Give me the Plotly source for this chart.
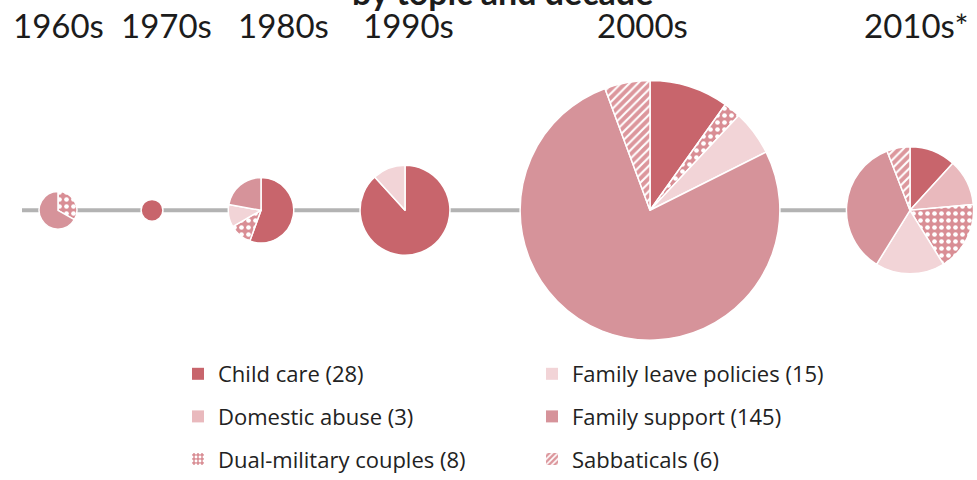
import math
import plotly.graph_objects as go

# ---------------- data ----------------
decades = ["1960s", "1970s", "1980s", "1990s", "2000s", "2010s*"]
topics = ["Child care", "Domestic abuse", "Dual-military couples",
          "Family leave policies", "Family support", "Sabbaticals"]
topic_totals = [28, 3, 8, 15, 145, 6]

child_care     = [0, 1, 5, 15, 14, 4]
domestic_abuse = [0, 0, 0, 0, 0, 4]
dual_military  = [1, 0, 1, 0, 3, 6]
family_leave   = [0, 0, 1, 2, 8, 6]
family_support = [2, 0, 2, 0, 109, 12]
sabbaticals    = [0, 0, 0, 0, 8, 2]

series = [child_care, domestic_abuse, dual_military,
          family_leave, family_support, sabbaticals]

# ---------------- layout / style ----------------
W, H = 977, 480
pie_cx = [58, 152, 261, 405, 650, 910]
label_x = [58, 166, 283, 408, 642, 916]
axis_y = 218
px_per_sqrt = 11.3

colors = ["#c8656c", "#e9b9bd", "#d98e95", "#f2d4d7", "#d6939a", "#dc969c"]
pat_shape = ["", "", ".", "", "", "/"]
pat_size = [6, 6, 7, 6, 6, 6]
pat_solid = [0.3, 0.3, 0.35, 0.3, 0.3, 0.35]

fig = go.Figure()

for i, dec in enumerate(decades):
    idx = [k for k in range(len(topics)) if series[k][i] > 0]
    vals = [series[k][i] for k in idx]
    total = sum(vals)
    r = px_per_sqrt * math.sqrt(total)
    cx, cy = pie_cx[i], axis_y
    fig.add_trace(go.Pie(
        labels=[topics[k] for k in idx],
        values=vals,
        name=dec,
        sort=False,
        direction="clockwise",
        rotation=0,
        textinfo="none",
        hovertemplate="%{label}: %{value}<extra>" + dec + "</extra>",
        showlegend=False,
        marker=dict(
            colors=[colors[k] for k in idx],
            line=dict(color="white", width=1.5),
            pattern=dict(shape=[pat_shape[k] for k in idx],
                         fgcolor="white",
                         bgcolor=[colors[k] for k in idx],
                         size=[pat_size[k] for k in idx],
                         solidity=[pat_solid[k] for k in idx]),
        ),
        domain=dict(x=[(cx - r) / W, (cx + r) / W],
                    y=[1 - (cy + r) / H, 1 - (cy - r) / H]),
    ))

# legend entries (one-slice pies, tiny domain) : totals per topic
for k, t in enumerate(topics):
    fig.add_trace(go.Pie(
        labels=[f"{t} ({topic_totals[k]})"],
        values=[topic_totals[k]],
        textinfo="none",
        hoverinfo="skip",
        marker=dict(colors=[colors[k]], line=dict(color="white", width=0),
                    pattern=dict(shape=[pat_shape[k]], fgcolor="white",
                                 bgcolor=[colors[k]],
                                 size=[4], solidity=[0.4])),
        domain=dict(x=[0, 0.0002], y=[0, 0.0002]),
        legend="legend" if k < 3 else "legend2",
        legendgroup=f"g{k}",
        showlegend=True,
    ))

annotations = []
for i, dec in enumerate(decades):
    annotations.append(dict(
        x=label_x[i] / W, y=1 - 26 / H, xref="paper", yref="paper",
        text=dec, showarrow=False, xanchor="center", yanchor="middle",
        font=dict(family="Lato", size=33, color="#1c1c1c"),
    ))
annotations.append(dict(
    x=502 / W, y=1 - 14 / H, xref="paper", yref="paper",
    text="<b>by topic and decade</b>", showarrow=False,
    xanchor="center", yanchor="bottom",
    font=dict(family="Lato", size=34, color="#1c1c1c"),
))

legend_style = dict(
    xanchor="left", yanchor="top",
    font=dict(family="Open Sans", size=22, color="#222222"),
    tracegroupgap=11, bgcolor="rgba(0,0,0,0)", orientation="v",
)

fig.update_layout(
    width=W, height=H,
    margin=dict(l=0, r=0, t=0, b=0),
    paper_bgcolor="white", plot_bgcolor="white",
    shapes=[dict(type="line", xref="paper", yref="paper",
                 x0=22 / W, x1=pie_cx[-1] / W,
                 y0=1 - axis_y / H, y1=1 - axis_y / H,
                 line=dict(color="#b3b3b3", width=4), layer="below")],
    annotations=annotations,
    legend=dict(x=178 / W, y=1 - 366 / H, **legend_style),
    legend2=dict(x=532 / W, y=1 - 366 / H, **legend_style),
)

fig.write_html("out.html",
               config={"displayModeBar": False},
               post_script="document.body.style.margin='0';document.body.style.overflow='hidden';")
